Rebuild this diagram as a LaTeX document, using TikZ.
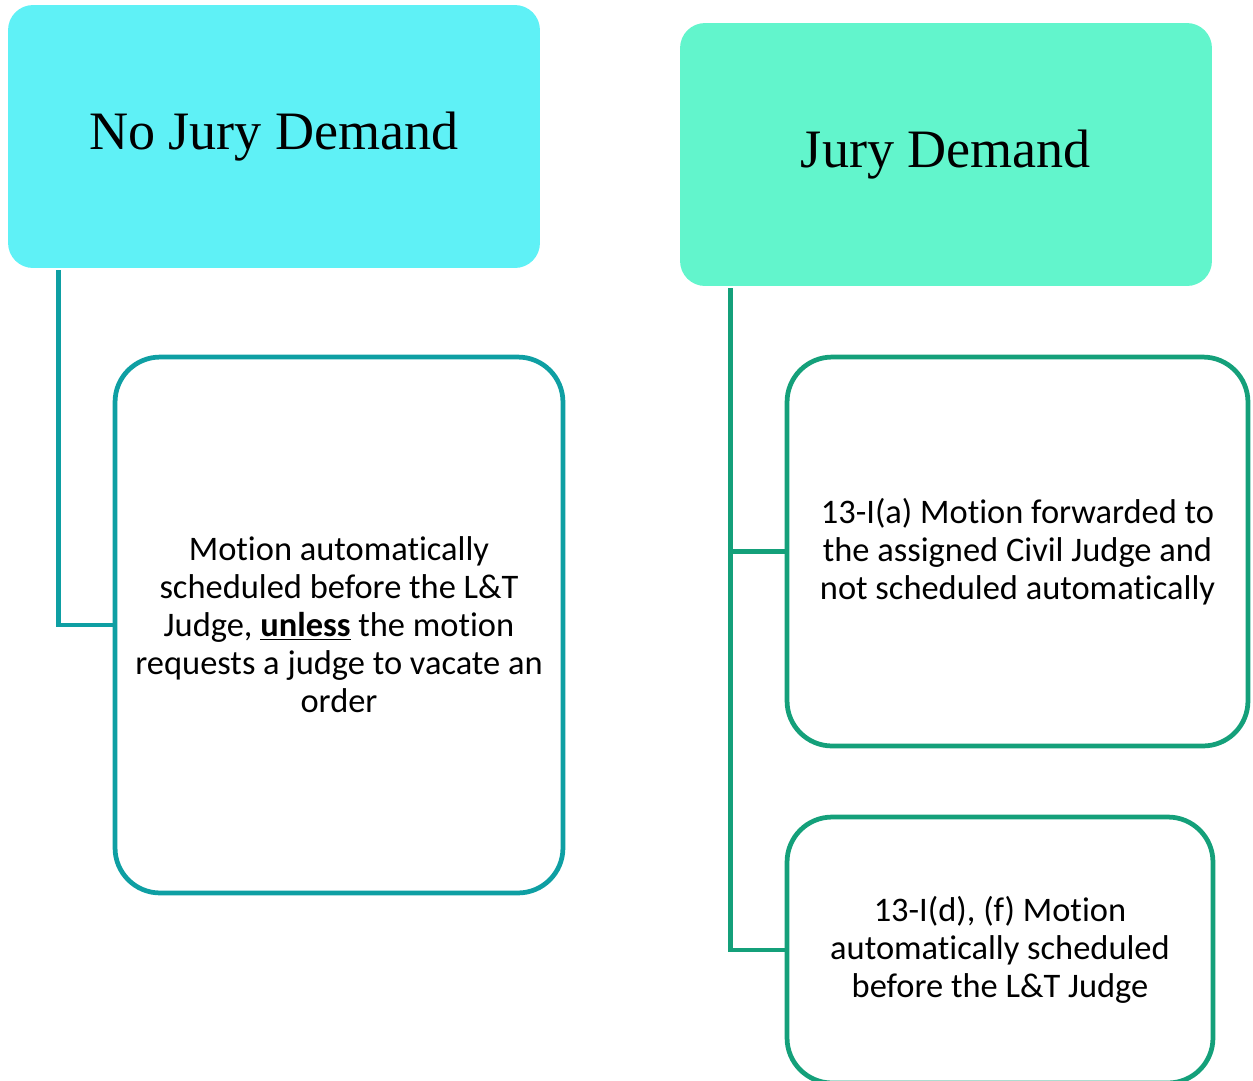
\documentclass[tikz,border=0pt]{standalone}
\usepackage{fontspec}
\setmainfont{Carlito}[Ligatures=CommonOff]
\newfontfamily\titlefont{Liberation Serif}
\usepackage{tikz}
\usetikzlibrary{positioning}

\definecolor{nojuryfill}{HTML}{5FF1F6}
\definecolor{juryfill}{HTML}{62F5CC}
\definecolor{nojuryline}{HTML}{0E9FA3}
\definecolor{juryline}{HTML}{14A07A}

\begin{document}
\begin{tikzpicture}[
    x=0.02cm, y=-0.02cm,
    header/.style={rectangle, rounded corners=0.5cm, minimum width=10.64cm, minimum height=5.26cm, align=center, font=\titlefont\fontsize{30.8}{36}\selectfont},
    child/.style={rectangle, draw, line width=0.095cm, rounded corners=0.9cm, align=center, fill=white, font=\fontsize{19.6}{21.6}\selectfont},
    link/.style={line width=0.09cm}
]
\useasboundingbox (0,0) rectangle (1253,1080);

% headers
\node[header, fill=nojuryfill] (nojury) at (274,136.5) {No Jury Demand};
\node[header, fill=juryfill] (jury) at (946,154.5) {Jury Demand};

% children
\node[child, draw=nojuryline, minimum width=8.96cm, minimum height=10.72cm] (vacate) at (339,625)
  {Motion automatically\\scheduled before the L\&T\\Judge, \underline{\textbf{unless}} the motion\\requests a judge to vacate an\\order};
\node[child, draw=juryline, minimum width=9.22cm, minimum height=7.78cm] (forward) at (1017.5,551.5)
  {13-I(a) Motion forwarded to\\the assigned Civil Judge and\\not scheduled automatically};
\node[child, draw=juryline, minimum width=8.52cm, minimum height=5.32cm] (auto) at (1000,950)
  {13-I(d), (f) Motion\\automatically scheduled\\before the L\&T Judge};

% connectors
\coordinate (nojurytap) at ([xshift=1.02cm]nojury.south west);
\coordinate (jurytap) at ([xshift=1.02cm]jury.south west);
\draw[link, nojuryline] ([yshift=-0.04cm]nojurytap) |- (vacate.west);
\draw[link, juryline] ([yshift=-0.04cm]jurytap) |- (forward.west);
\draw[link, juryline] ([yshift=-0.04cm]jurytap) |- (auto.west);
\end{tikzpicture}
\end{document}
